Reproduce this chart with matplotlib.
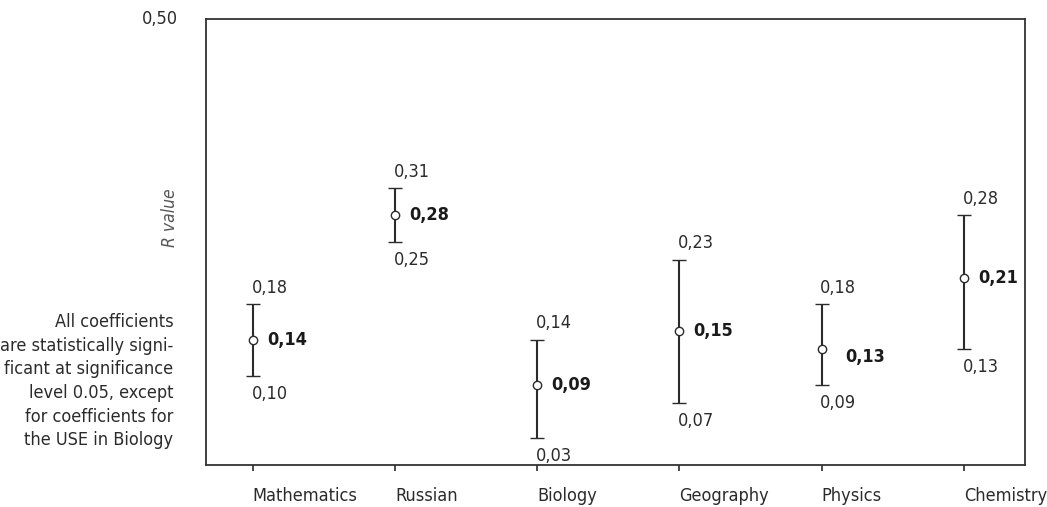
import numpy as np
import matplotlib
matplotlib.use('Agg')
import matplotlib.pyplot as plt

plt.rcParams['font.family'] = ['DejaVu Sans']
plt.rcParams['font.stretch'] = 'condensed'

# correlation coefficients with confidence bounds per exam subject
subjects = ['Mathematics', 'Russian', 'Biology', 'Geography', 'Physics', 'Chemistry']
r_value = np.array([0.14, 0.28, 0.09, 0.15, 0.13, 0.21])
r_low = np.array([0.10, 0.25, 0.03, 0.07, 0.09, 0.13])
r_high = np.array([0.18, 0.31, 0.14, 0.23, 0.18, 0.28])

note = ('All coefficients\nare statistically signi-\nficant at significance\n'
        'level 0.05, except\nfor coefficients for\nthe USE in Biology')

ink = '#2b2b2b'
fs = 13

fig = plt.figure(figsize=(10.47, 5.07), dpi=100)
ax = fig.add_axes([0.1967, 0.0828, 0.7823, 0.8797])

x = np.arange(len(subjects))
ax.errorbar(x, r_value, yerr=[r_value - r_low, r_high - r_value], fmt='o',
            color=ink, ecolor=ink, elinewidth=1.5, capsize=5, capthick=2.8,
            markersize=6, markerfacecolor='white', markeredgecolor=ink,
            markeredgewidth=1.0, zorder=3)


def fmt(v):
    return f'{v:.2f}'.replace('.', ',')


# per-label nudges for the bold centre value (points)
centre_dx = [10, 10, 10, 10, 17, 10]
centre_dy = [0, 0, 0, 0, -6, 0]

for i in range(len(subjects)):
    ax.annotate(fmt(r_high[i]), (x[i], r_high[i]), xytext=(-1, 12),
                textcoords='offset points', ha='left', va='center',
                fontsize=fs, color=ink)
    ax.annotate(fmt(r_low[i]), (x[i], r_low[i]), xytext=(-1, -13),
                textcoords='offset points', ha='left', va='center',
                fontsize=fs, color=ink)
    ax.annotate(fmt(r_value[i]), (x[i], r_value[i]),
                xytext=(centre_dx[i], centre_dy[i]),
                textcoords='offset points', ha='left', va='center',
                fontsize=fs, color='#1a1a1a', fontweight='bold')

ax.set_xlim(-0.33, 5.43)
ax.set_ylim(0, 0.5)
ax.set_xticks(x)
ax.set_xticklabels(subjects, ha='left', fontsize=fs, color=ink)
ax.tick_params(axis='x', length=4, width=1.2, color=ink, pad=12)
ax.set_yticks([0.5])
ax.set_yticklabels(['0,50'], fontsize=fs, color=ink, va='center')
ax.tick_params(axis='y', length=0, pad=20)

for s in ax.spines.values():
    s.set_color('#333333')
    s.set_linewidth(1.3)

ax.text(-0.044, 0.554, 'R value', transform=ax.transAxes, rotation=90,
        ha='center', va='center', fontsize=fs - 0.5, style='italic', color='#555555')
ax.text(-0.040, 0.188, note, transform=ax.transAxes, ha='right', va='center',
        multialignment='right', fontsize=fs, color=ink, linespacing=1.4)

fig.savefig('out.png', dpi=100)
